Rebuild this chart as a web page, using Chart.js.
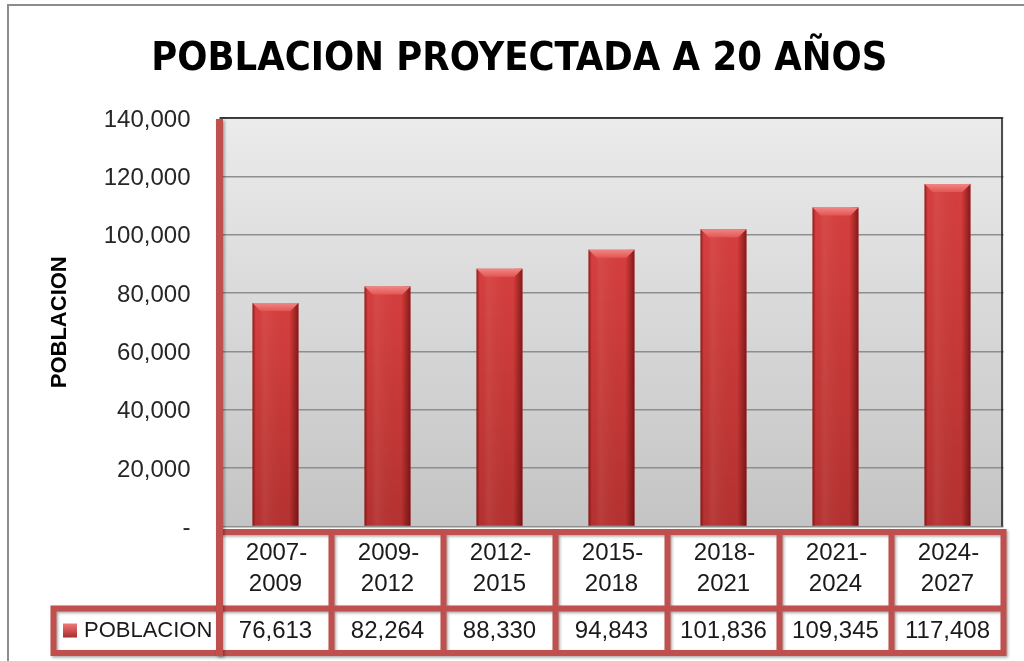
<!DOCTYPE html>
<html>
<head>
<meta charset="utf-8">
<script src="https://cdn.jsdelivr.net/npm/chart.js@4.4.1/dist/chart.umd.min.js"></script>
<style>
  html, body { margin: 0; padding: 0; background: #fff; }
</style>
</head>
<body>
<canvas id="poblacionChart" width="1024" height="661"></canvas>
<script>
const periodos = ['2007-2009', '2009-2012', '2012-2015', '2015-2018', '2018-2021', '2021-2024', '2024-2027'];
const poblacion = [76613, 82264, 88330, 94843, 101836, 109345, 117408];
const ticksY = [0, 20000, 40000, 60000, 80000, 100000, 120000, 140000];
const serieNombre = 'POBLACION';
const tituloY = 'POBLACION';
const titulo = 'POBLACION PROYECTADA A 20 AÑOS';

const ROJO = '#c0504d';
const FUENTE = "'Liberation Sans', Arial, sans-serif";

function fmt(v) {
  return v === 0 ? '-' : v.toLocaleString('en-US');
}

// marco exterior y fondo del area de trazado
const fondo = {
  id: 'fondo',
  beforeDraw(chart) {
    const ctx = chart.ctx;
    const ca = chart.chartArea;
    ctx.save();
    ctx.fillStyle = '#fff';
    ctx.fillRect(0, 0, chart.width, chart.height);
    ctx.strokeStyle = '#8c8c8c';
    ctx.lineWidth = 2;
    ctx.beginPath();
    ctx.moveTo(8, chart.height);
    ctx.lineTo(8, 5);
    ctx.lineTo(chart.width, 5);
    ctx.stroke();
    const g = ctx.createLinearGradient(0, ca.top, 0, ca.bottom);
    g.addColorStop(0, '#ebebeb');
    g.addColorStop(1, '#c4c4c4');
    ctx.fillStyle = g;
    ctx.fillRect(ca.left, ca.top, ca.right - ca.left, ca.bottom - ca.top);
    ctx.restore();
  }
};

// relieve de las barras
const relieve = {
  id: 'relieve',
  afterDatasetsDraw(chart) {
    const ctx = chart.ctx;
    const meta = chart.getDatasetMeta(0);
    ctx.save();
    meta.data.forEach(function (bar) {
      const p = bar.getProps(['x', 'y', 'base', 'width'], true);
      const l = p.x - p.width / 2;
      const r = p.x + p.width / 2;
      const h = p.base - p.y;

      let g = ctx.createLinearGradient(0, p.y, 0, p.base);
      g.addColorStop(0, 'rgba(60,0,0,0)');
      g.addColorStop(1, 'rgba(60,0,0,0.22)');
      ctx.fillStyle = g;
      ctx.fillRect(l, p.y, p.width, h);

      g = ctx.createLinearGradient(l, 0, r, 0);
      g.addColorStop(0, 'rgba(80,0,0,0.55)');
      g.addColorStop(0.07, 'rgba(80,0,0,0)');
      g.addColorStop(0.25, 'rgba(255,255,255,0.06)');
      g.addColorStop(0.8, 'rgba(80,0,0,0)');
      g.addColorStop(1, 'rgba(80,0,0,0.6)');
      ctx.fillStyle = g;
      ctx.fillRect(l, p.y, p.width, h);

      const b = 8;
      g = ctx.createLinearGradient(0, p.y, 0, p.y + b);
      g.addColorStop(0, '#f08683');
      g.addColorStop(1, '#e35654');
      ctx.fillStyle = g;
      ctx.beginPath();
      ctx.moveTo(l, p.y);
      ctx.lineTo(r, p.y);
      ctx.lineTo(r - b, p.y + b);
      ctx.lineTo(l + b, p.y + b);
      ctx.closePath();
      ctx.fill();
    });
    ctx.restore();
  }
};

// tabla de datos bajo el eje
const tabla = {
  id: 'tabla',
  afterDraw(chart) {
    const ctx = chart.ctx;
    const ca = chart.chartArea;
    const xs = chart.scales.x;
    const n = periodos.length;
    const paso = (ca.right - ca.left) / n;
    const bordes = [];
    for (let i = 0; i <= n; i++) {
      bordes.push(ca.left + i * paso);
    }
    const y1 = ca.bottom + 5.5;
    const y2 = ca.bottom + 82;
    const y3 = ca.bottom + 126.5;
    const xLeyenda = 53.5;

    ctx.save();
    // bordes del area de trazado
    ctx.strokeStyle = '#1a1a1a';
    ctx.lineWidth = 1.5;
    ctx.beginPath();
    ctx.moveTo(ca.left, ca.top);
    ctx.lineTo(ca.right - 1.5, ca.top);
    ctx.lineTo(ca.right - 1.5, ca.bottom);
    ctx.stroke();

    ctx.fillStyle = '#fff';
    ctx.fillRect(ca.left, y1, ca.right - ca.left, y3 - y1);
    ctx.fillRect(xLeyenda, y2, ca.left - xLeyenda, y3 - y2);

    ctx.shadowColor = 'rgba(0,0,0,0.35)';
    ctx.shadowBlur = 3;
    ctx.shadowOffsetX = 1.5;
    ctx.shadowOffsetY = 1.5;
    ctx.strokeStyle = ROJO;
    ctx.lineWidth = 6;
    ctx.lineCap = 'square';
    ctx.beginPath();
    ctx.moveTo(ca.left, y1);
    ctx.lineTo(ca.right, y1);
    ctx.moveTo(xLeyenda, y2);
    ctx.lineTo(ca.right, y2);
    ctx.moveTo(xLeyenda, y3);
    ctx.lineTo(ca.right, y3);
    ctx.moveTo(xLeyenda, y2);
    ctx.lineTo(xLeyenda, y3);
    for (let i = 1; i <= n; i++) {
      ctx.moveTo(bordes[i], y1);
      ctx.lineTo(bordes[i], y3);
    }
    ctx.stroke();
    ctx.lineWidth = 7;
    ctx.lineCap = 'butt';
    ctx.beginPath();
    ctx.moveTo(ca.left, ca.top + 1);
    ctx.lineTo(ca.left, y3 + 3);
    ctx.stroke();
    ctx.restore();

    ctx.save();
    ctx.fillStyle = '#1a1a1a';
    ctx.textAlign = 'center';
    ctx.textBaseline = 'middle';
    ctx.font = '24px ' + FUENTE;
    periodos.forEach(function (p, i) {
      const cx = xs.getPixelForValue(i);
      const partes = p.split('-');
      ctx.fillText(partes[0] + '-', cx + 1, ca.bottom + 27);
      ctx.fillText(partes[1], cx, ca.bottom + 58);
      ctx.fillText(fmt(poblacion[i]), cx, ca.bottom + 105);
    });

    // leyenda
    const m = ctx.createLinearGradient(0, ca.bottom + 97, 0, ca.bottom + 111);
    m.addColorStop(0, '#f07a78');
    m.addColorStop(1, '#a82c2a');
    ctx.fillStyle = m;
    ctx.fillRect(63, ca.bottom + 97, 14, 14);
    ctx.fillStyle = '#1a1a1a';
    ctx.textAlign = 'left';
    ctx.font = '22px ' + FUENTE;
    ctx.fillText(serieNombre, 84, ca.bottom + 104);
    ctx.restore();
  }
};

new Chart(document.getElementById('poblacionChart'), {
  type: 'bar',
  data: {
    labels: periodos,
    datasets: [{
      label: serieNombre,
      data: poblacion,
      backgroundColor: '#d63f3e',
      borderWidth: 0,
      barPercentage: 0.41,
      categoryPercentage: 1
    }]
  },
  options: {
    responsive: false,
    animation: false,
    devicePixelRatio: 1,
    layout: {
      padding: { top: 0, left: 35, right: 20.5, bottom: 134.5 }
    },
    plugins: {
      legend: { display: false },
      tooltip: { enabled: false },
      title: {
        display: true,
        text: titulo,
        color: '#000',
        font: { family: "'DejaVu Sans Condensed', 'DejaVu Sans', sans-serif", size: 39.5, weight: 'bold', lineHeight: 1.2 },
        padding: { top: 36.5, bottom: 34.1 }
      }
    },
    scales: {
      x: {
        display: false
      },
      y: {
        min: ticksY[0],
        max: ticksY[ticksY.length - 1],
        afterFit(scale) {
          scale.width = 184.5;
        },
        ticks: {
          stepSize: ticksY[1] - ticksY[0],
          padding: 29,
          labelOffset: 2,
          color: '#262626',
          font: { family: FUENTE, size: 24 },
          callback: function (v) { return fmt(v); }
        },
        grid: {
          color: '#8e8e8e',
          lineWidth: 1.5,
          drawTicks: false
        },
        border: { display: false },
        title: {
          display: true,
          text: tituloY,
          color: '#000',
          font: { family: FUENTE, size: 22, weight: 'bold', lineHeight: 1.2 },
          padding: { top: 12, bottom: 0 }
        }
      }
    }
  },
  plugins: [fondo, relieve, tabla]
});
</script>
</body>
</html>
